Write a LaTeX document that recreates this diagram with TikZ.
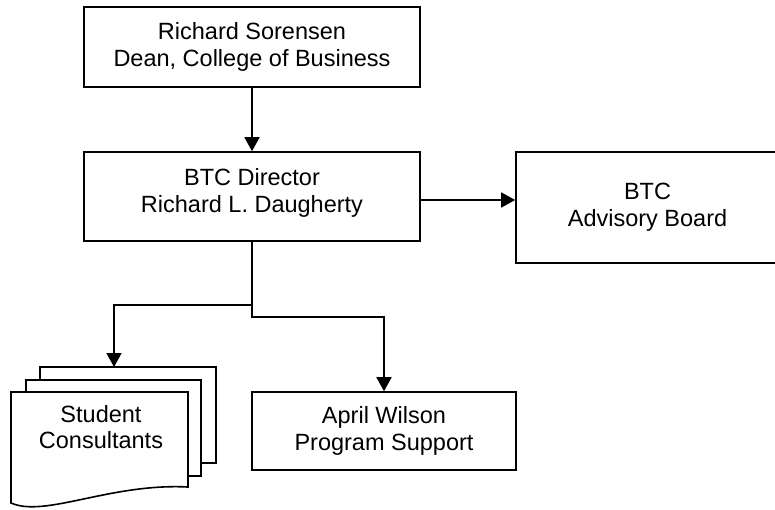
\documentclass[tikz,border=0pt]{standalone}
\usepackage{fontspec}
\setmainfont{Liberation Sans}
\usetikzlibrary{arrows.meta}

\tikzset{
  orgbox/.style={draw, line width=1.6pt, fill=white, align=center, inner sep=0pt,
    font=\fontsize{23.5}{26.7}\selectfont},
  orgtext/.style={align=center, inner sep=0pt, font=\fontsize{23.5}{26.7}\selectfont},
  docpage/.style={draw, line width=1.6pt, fill=white},
  orgarrow/.style={line width=1.6pt, -{Triangle[length=14pt,width=15pt]}},
}

\begin{document}
\begin{tikzpicture}[x=1pt,y=1pt,yscale=-1]
\useasboundingbox (0,0) rectangle (775,510);

%Shape: Rectangle [dean]
\node[orgbox, minimum width=336, minimum height=80] (dean) at (252,47)
  {Richard Sorensen\\Dean, College of Business};
%Shape: Rectangle [director]
\node[orgbox, minimum width=336, minimum height=89] (director) at (252,196.5)
  {BTC Director\\Richard L. Daugherty\\[-14pt]};
%Shape: Rectangle [board]
\node[orgbox, minimum width=263, minimum height=111] (board) at (647.5,207.5)
  {BTC\\Advisory Board};
%Shape: Rectangle [april]
\node[orgbox, minimum width=264, minimum height=78] (april) at (384,431)
  {April Wilson\\Program Support};

%Shape: Multidocument
\draw[docpage] (40,367) rectangle (216,463);
\draw[docpage] (26,380) rectangle (201,476);
\draw[docpage] (11,392) -- (188,392) -- (188,487) .. controls (110,483) and (45,518) .. (11,503) -- cycle;
\coordinate (docs) at (114,367);
% Text Node
\node[orgtext] (students) at (101,427) {Student\\Consultants};

%Straight Lines
\draw[orgarrow] (dean.south) -- (director.north);
\draw[orgarrow] ([yshift=3.5]director.east) -- ([yshift=3.5]director.east -| board.west);
\draw[orgarrow] (director.south) -- ++(0,63) -| (docs);
\draw[orgarrow] (director.south) -- ++(0,75) -| (april.north);

\end{tikzpicture}
\end{document}
